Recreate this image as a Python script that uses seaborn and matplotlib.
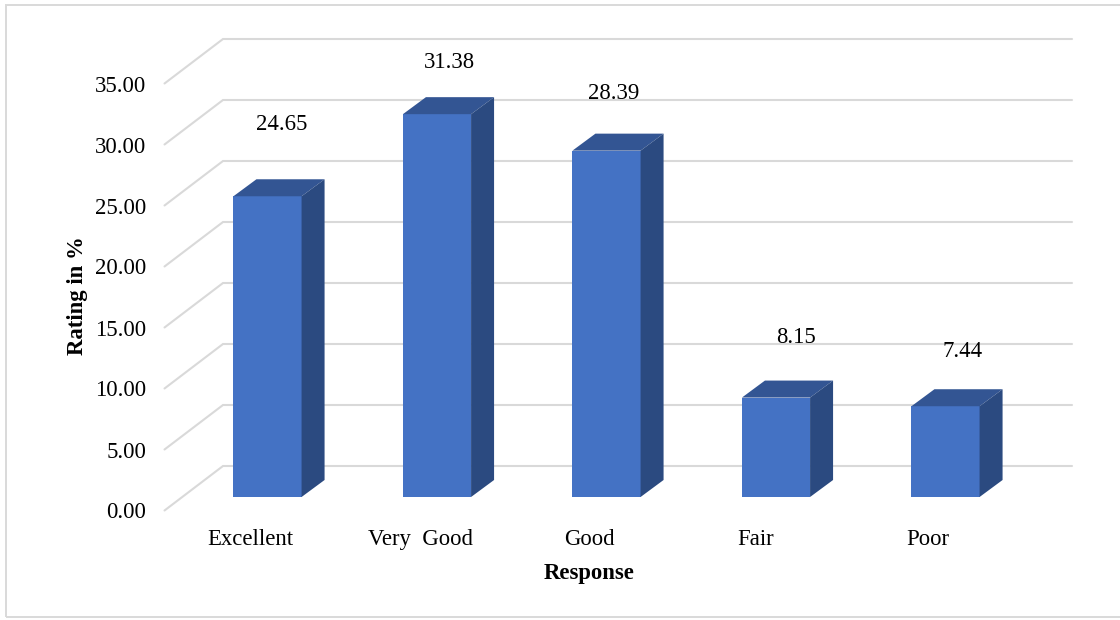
import numpy as np
import pandas as pd
import matplotlib.pyplot as plt
import seaborn as sns
from matplotlib.patches import Polygon, Rectangle

# ----------------- Data -----------------
responses = ["Excellent", "Very  Good", "Good", "Fair", "Poor"]
ratings = [24.65, 31.38, 28.39, 8.15, 7.44]
y_ticks = [0, 5, 10, 15, 20, 25, 30, 35]

# manual placement of the value labels / category labels, in pixels
value_label_dx = [14, 12, 7, 20, 17]
value_label_dy = [72, 52, 57, 60, 55]
cat_label_dx = [-17.5, -17, -17.5, -20, -17.5]

# ----------------- Geometry (pixels) -----------------
W, H = 1120, 620
px_unit = 12.2       # pixels for one % on the y axis
px_cat = 169.5       # pixels between bar centres
x0_px, y0_px = 267.5, 497   # first bar centre, bar baseline
ax_l, ax_r, ax_t, ax_b = 164.5, 1072, 39, 510.5
wall_l = 223
depth_x, depth_y = 23 / px_cat, 17 / px_unit

sns.set_theme(style="white")
plt.rcParams["font.family"] = ["Liberation Serif", "DejaVu Serif"]
plt.rcParams["text.color"] = "black"

fig = plt.figure(figsize=(W / 100, H / 100), dpi=100, facecolor="white")
ax = fig.add_axes([ax_l / W, 1 - ax_b / H, (ax_r - ax_l) / W, (ax_b - ax_t) / H])
ax.patch.set_alpha(0)

df = pd.DataFrame({"Response": responses, "Rating": ratings})
sns.barplot(data=df, x="Response", y="Rating", color="#4472C4", saturation=1,
            width=0.402, linewidth=0, ax=ax, zorder=3)

ax.set_xlim((ax_l - x0_px) / px_cat, (ax_r - x0_px) / px_cat)
ax.set_ylim((y0_px - ax_b) / px_unit, (y0_px - ax_t) / px_unit)

# back wall gridlines + the slanted side wall lines
back_off = (y0_px - 466) / px_unit
front_off = (y0_px - ax_b) / px_unit
x_wall = (wall_l - x0_px) / px_cat
x_left, x_right = ax.get_xlim()
for t in y_ticks:
    ax.plot([x_left, x_wall, x_right], [t + front_off, t + back_off, t + back_off],
            color="#d9d9d9", lw=1.5, zorder=1, clip_on=False, solid_joinstyle="miter")

# fake 3D: top and side face for each bar
for i, bar in enumerate(list(ax.patches)):
    l, r = bar.get_x(), bar.get_x() + bar.get_width()
    top = bar.get_height()
    ax.add_patch(Polygon([(l, top), (r, top), (r + depth_x, top + depth_y), (l + depth_x, top + depth_y)],
                         closed=True, facecolor="#335593", edgecolor="none", zorder=3))
    ax.add_patch(Polygon([(r, 0), (r + depth_x, depth_y), (r + depth_x, top + depth_y), (r, top)],
                         closed=True, facecolor="#2B4A80", edgecolor="none", zorder=3))
    ax.annotate(f"{ratings[i]:.2f}", xy=(i, top), xytext=(value_label_dx[i], value_label_dy[i]),
                textcoords="offset pixels", ha="center", va="center", fontsize=16.4, color="black", zorder=5)

# axes text
ax.set_yticks([t + front_off for t in y_ticks])
ax.set_yticklabels([f"{t:.2f}" for t in y_ticks], fontsize=16.4, color="black")
ax.set_xticks([i + d / px_cat for i, d in enumerate(cat_label_dx)])
ax.set_xticklabels(responses, fontsize=16.4, color="black")
ax.tick_params(axis="y", length=0, pad=13)
ax.tick_params(axis="x", length=0, pad=13.5)
ax.set_xlabel("Response", fontsize=16.4, fontweight="bold", color="black", va="center")
ax.set_ylabel("Rating in %", fontsize=16.4, fontweight="bold", color="black", va="center")
ax.xaxis.set_label_coords((589 - ax_l) / (ax_r - ax_l), (ax_b - 573) / (ax_b - ax_t))
ax.yaxis.set_label_coords((78 - ax_l) / (ax_r - ax_l), (ax_b - 296) / (ax_b - ax_t))
sns.despine(ax=ax, left=True, bottom=True)

# chart frame: runs off the right edge of the picture, so no right side shows
fig.add_artist(Rectangle((6 / W, 1 - 617 / H), 1130 / W, 612 / H, transform=fig.transFigure,
                         fill=False, edgecolor="#d9d9d9", lw=1.4))

fig.savefig("out.png", dpi=100)
plt.close(fig)
